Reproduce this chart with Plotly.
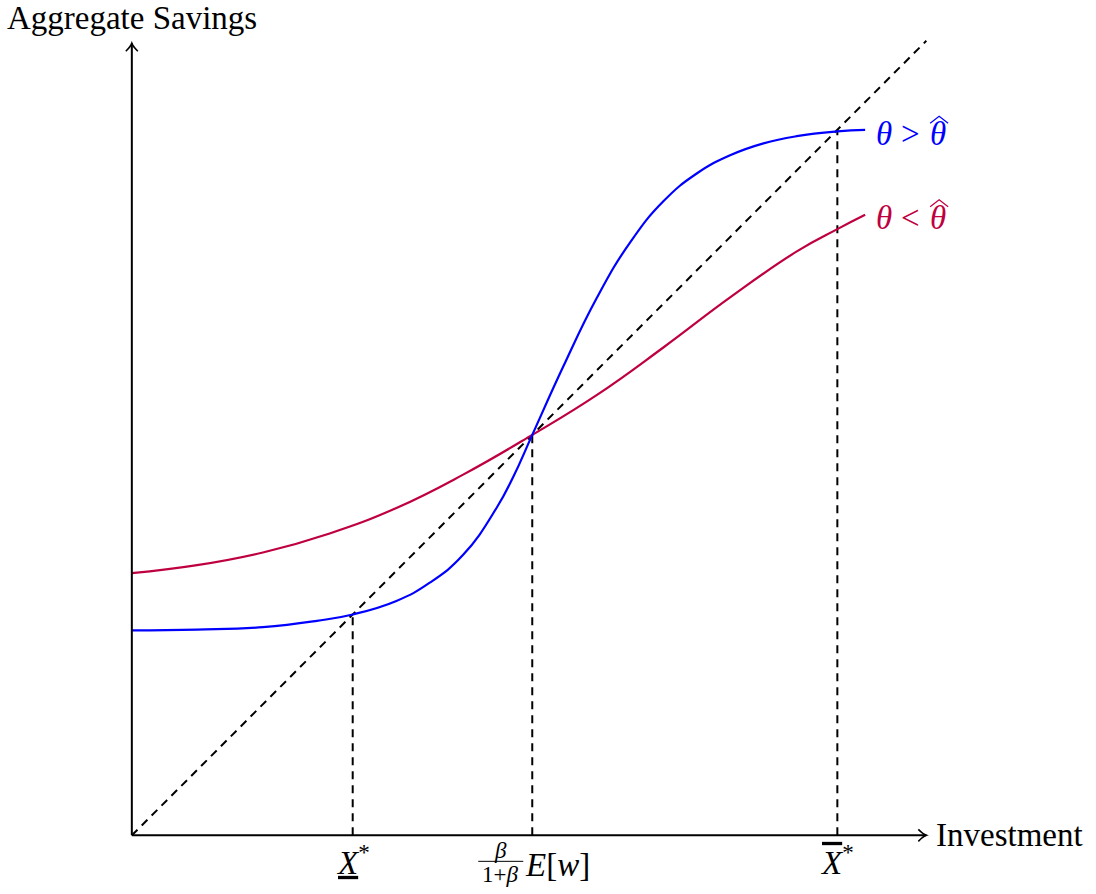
import plotly.graph_objects as go

# ---- data (axis units: origin at 0, both axes run to 10) ----
blue_x = [0.00, 0.82, 1.65, 2.33, 2.78, 3.33, 3.75, 4.17, 4.59, 4.80, 5.04,
          5.43, 5.85, 6.27, 6.69, 7.11, 7.53, 7.95, 8.37, 8.88, 9.23]
blue_y = [2.58, 2.59, 2.62, 2.70, 2.78, 2.95, 3.18, 3.53, 4.12, 4.51, 5.04,
          5.90, 6.76, 7.46, 7.98, 8.33, 8.56, 8.71, 8.80, 8.86, 8.88]

red_x = [0.00, 0.82, 1.65, 2.49, 3.33, 4.17, 5.04, 5.85, 6.69, 7.53, 8.37, 8.88, 9.23]
red_y = [3.30, 3.40, 3.56, 3.80, 4.12, 4.54, 5.04, 5.54, 6.14, 6.77, 7.35, 7.63, 7.81]

diag = [0, 10]                       # 45-degree line
eq_x = [2.78, 5.04, 8.88]            # X*, beta/(1+beta)E[w], X-bar*
axis_max = 10

BLUE = "#0000FF"
RED = "#BF0040"
FONT = "Liberation Serif"
DASH = "8px,6px"

fig = go.Figure()

# 45-degree line
fig.add_trace(go.Scatter(x=diag, y=diag, mode="lines",
                         line=dict(color="black", width=2, dash=DASH),
                         cliponaxis=False, hoverinfo="skip"))
# vertical dashed drops
for xv in eq_x:
    fig.add_trace(go.Scatter(x=[xv, xv], y=[0, xv], mode="lines",
                             line=dict(color="black", width=2, dash=DASH),
                             cliponaxis=False, hoverinfo="skip"))
# curves
fig.add_trace(go.Scatter(x=red_x, y=red_y, mode="lines",
                         line=dict(color=RED, width=2.2, shape="spline", smoothing=1.3),
                         cliponaxis=False))
fig.add_trace(go.Scatter(x=blue_x, y=blue_y, mode="lines",
                         line=dict(color=BLUE, width=2.2, shape="spline", smoothing=1.3),
                         cliponaxis=False))

ytip = axis_max * 0.997
shapes = [
    dict(type="line", x0=0, y0=0, x1=axis_max, y1=0, xref="x", yref="y",
         line=dict(color="black", width=2)),
    dict(type="line", x0=0, y0=0, x1=0, y1=ytip, xref="x", yref="y",
         line=dict(color="black", width=2)),
    # arrow heads
    dict(type="path", xref="x", yref="y", xsizemode="pixel", ysizemode="pixel",
         xanchor=axis_max, yanchor=0,
         path="M -8,6 Q -3,1 0,0 Q -3,-1 -8,-6", line=dict(color="black", width=1.6)),
    dict(type="path", xref="x", yref="y", xsizemode="pixel", ysizemode="pixel",
         xanchor=0, yanchor=ytip,
         path="M -6,-8 Q -1,-3 0,0 Q 1,-3 6,-8", line=dict(color="black", width=1.6)),
    # fraction bar
    dict(type="line", xref="x", yref="y", xsizemode="pixel", ysizemode="pixel",
         xanchor=eq_x[1], yanchor=0, x0=-54, x1=-9, y0=-26, y1=-26,
         line=dict(color="black", width=1)),
    # wide hats over theta
    dict(type="path", xref="x", yref="y", xsizemode="pixel", ysizemode="pixel",
         xanchor=blue_x[-1], yanchor=blue_y[-1],
         path="M 65,6.5 L 74,13.5 L 83,6.5", line=dict(color=BLUE, width=1.2)),
    dict(type="path", xref="x", yref="y", xsizemode="pixel", ysizemode="pixel",
         xanchor=red_x[-1], yanchor=red_y[-1],
         path="M 65,8 L 74,15 L 83,8", line=dict(color=RED, width=1.2)),
]

ann = []
def A(text, x, y, size=33, color="black", **kw):
    d = dict(text=text, x=x, y=y, xref="x", yref="y", showarrow=False,
             font=dict(family=FONT, size=size, color=color))
    d.update(kw)
    ann.append(d)

A("Aggregate Savings", 0, axis_max, yanchor="bottom", xanchor="center", yshift=3)
A("Investment", axis_max, 0, xanchor="left", yanchor="middle", xshift=8, yshift=0)
A("<u><i>X</i></u><sup>*</sup>", eq_x[0], 0, xanchor="center", yanchor="top", yshift=-2)
A("<span style='text-decoration:overline'><i>X</i></span><sup>*</sup>", eq_x[2], 0,
  xanchor="center", yanchor="top", yshift=-2)
A("<i>β</i>", eq_x[1], 0, size=23, xanchor="center", yanchor="middle", xshift=-32, yshift=-15)
A("1+<i>β</i>", eq_x[1], 0, size=23, xanchor="center", yanchor="middle", xshift=-32, yshift=-39)
A("<i>E</i>[<i>w</i>]", eq_x[1], 0, xanchor="center", yanchor="middle", xshift=25, yshift=-30)

for xs_, txt in [(19, "<i>θ</i>"), (45, ">"), (72.5, "<i>θ</i>")]:
    A(txt, blue_x[-1], blue_y[-1], color=BLUE, xanchor="center", yanchor="middle",
      xshift=xs_, yshift=-4.5)
for xs_, txt in [(19, "<i>θ</i>"), (45, "<"), (72.5, "<i>θ</i>")]:
    A(txt, red_x[-1], red_y[-1], color=RED, xanchor="center", yanchor="middle",
      xshift=xs_, yshift=-3.5)

fig.update_layout(
    width=1096, height=894,
    margin=dict(l=108, r=122, t=17, b=11, autoexpand=False),
    paper_bgcolor="white", plot_bgcolor="white",
    showlegend=False,
    xaxis=dict(range=[-0.3, 10.6], visible=False, fixedrange=True),
    yaxis=dict(range=[-0.6, 10.3], visible=False, fixedrange=True),
    shapes=shapes, annotations=ann,
)

fig.write_html("out.html", config=dict(displayModeBar=False),
               post_script="document.body.style.margin='0';")
